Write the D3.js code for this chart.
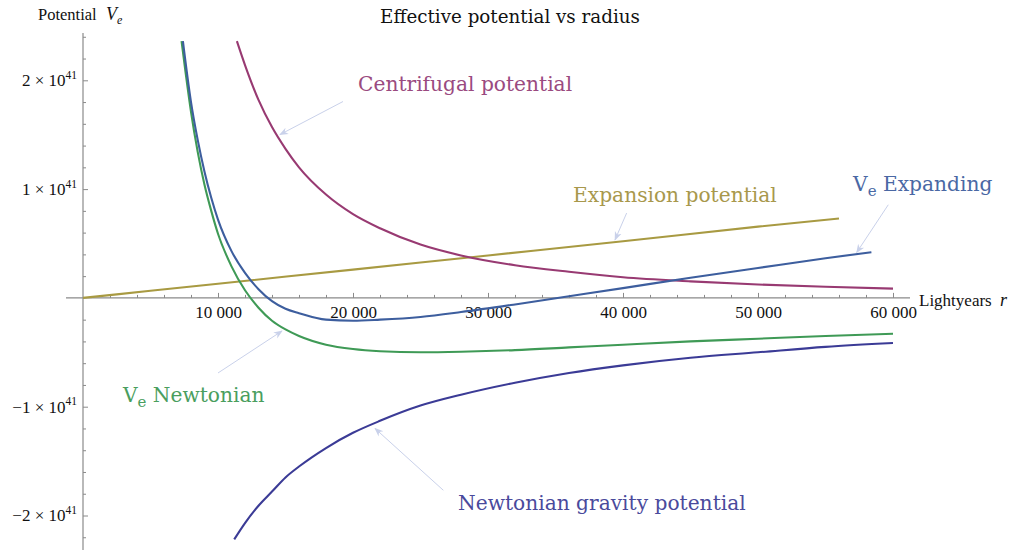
<!DOCTYPE html>
<html>
<head>
<meta charset="utf-8">
<script src="https://cdn.jsdelivr.net/npm/d3@7"></script>
<style>
  body { margin: 0; background: #fff; }
  svg { display: block; }
  text { font-family: "Liberation Serif", serif; }
  .lbl { font-family: "DejaVu Serif", serif; }
</style>
</head>
<body>
<svg width="1010" height="550"></svg>
<script>
// radius r in lightyears, potential V in units of 1e41

var centrifugalR = [11400, 12000, 13000, 14000, 15000, 16000, 18000, 20000, 22000, 25000, 28000, 32000, 36000, 40000, 45000, 50000, 55000, 60000];
var centrifugalV = [2.36, 2.14, 1.82, 1.57, 1.37, 1.20, 0.95, 0.77, 0.64, 0.49, 0.39, 0.30, 0.24, 0.19, 0.152, 0.123, 0.102, 0.085];

var gravityR = [11200, 12000, 13000, 14000, 15000, 16000, 18000, 20000, 22000, 25000, 28000, 32000, 36000, 40000, 45000, 50000, 55000, 60000];
var gravityV = [-2.22, -2.07, -1.91, -1.78, -1.65, -1.55, -1.38, -1.24, -1.13, -0.99, -0.89, -0.78, -0.69, -0.62, -0.55, -0.50, -0.45, -0.415];

var expansionR = [0, 5000, 10000, 20000, 30000, 40000, 50000, 56000];
var expansionV = [0, 0.065, 0.13, 0.26, 0.39, 0.52, 0.655, 0.73];

var newtonianR = [7300, 7600, 8000, 8500, 9000, 9500, 10000, 11000, 12000, 13000, 14000, 15000, 16000, 18000, 20000, 22000, 25000, 28000, 32000, 36000, 40000, 45000, 50000, 55000, 60000];
var newtonianV = [2.36, 2.07, 1.71, 1.34, 1.04, 0.80, 0.59, 0.29, 0.07, -0.09, -0.21, -0.29, -0.35, -0.43, -0.47, -0.49, -0.50, -0.495, -0.48, -0.455, -0.43, -0.40, -0.375, -0.35, -0.33];

var expandingR = [7400, 8000, 8500, 9000, 9500, 10000, 11000, 12000, 13000, 14000, 15000, 16000, 18000, 20000, 22000, 25000, 28000, 32000, 36000, 40000, 45000, 50000, 55000, 58400];
var expandingV = [2.36, 1.80, 1.45, 1.16, 0.92, 0.72, 0.43, 0.23, 0.08, -0.03, -0.10, -0.14, -0.20, -0.21, -0.20, -0.175, -0.13, -0.06, 0.015, 0.09, 0.185, 0.275, 0.365, 0.42];

var xTicks = [10000, 20000, 30000, 40000, 50000, 60000];
var yTicks = [-2, -1, 1, 2];
var yTickLabels = ["\u22122", "\u22121", "1", "2"];

var svg = d3.select("svg");

var x = d3.scaleLinear().domain([0, 60000]).range([83, 893]);
var y = d3.scaleLinear().domain([-2, 2]).range([515.5, 80.3]);
var x0 = x(0), y0 = y(0);

var axisColor = "#8a8a8a";

// axis lines
svg.append("line")
  .attr("x1", 66).attr("x2", 910)
  .attr("y1", y0).attr("y2", y0)
  .attr("stroke", axisColor).attr("stroke-width", 1.2);
svg.append("line")
  .attr("x1", x0).attr("x2", x0)
  .attr("y1", 33).attr("y2", 550)
  .attr("stroke", axisColor).attr("stroke-width", 1.2);

// x ticks
var minorX = d3.range(1, 31).map(i => i * 2000).filter(d => d % 10000 != 0);
svg.append("g")
  .attr("transform", `translate(0,${y0})`)
  .call(d3.axisBottom(x).tickValues(minorX).tickSizeInner(-3).tickSizeOuter(0).tickFormat(""))
  .call(g => g.select(".domain").remove());

var gx = svg.append("g")
  .attr("transform", `translate(0,${y0})`)
  .call(d3.axisBottom(x).tickValues(xTicks).tickSizeInner(-5).tickSizeOuter(0).tickPadding(8)
    .tickFormat(d => d3.format(",")(d).replace(",", "\u2005")))
  .call(g => g.select(".domain").remove());
gx.selectAll("text").attr("font-size", 17).attr("fill", "#111")
  .style("font-family", '"Liberation Serif", serif');

// y ticks
var minorY = d3.range(-11, 13).map(i => i / 5).filter(d => Math.abs(d - Math.round(d)) > 1e-9);
svg.append("g")
  .attr("transform", `translate(${x0},0)`)
  .call(d3.axisLeft(y).tickValues(minorY).tickSizeInner(-3).tickSizeOuter(0).tickFormat(""))
  .call(g => g.select(".domain").remove());

var gy = svg.append("g")
  .attr("transform", `translate(${x0},0)`)
  .call(d3.axisLeft(y).tickValues(yTicks).tickSizeInner(-5).tickSizeOuter(0).tickPadding(6).tickFormat(""))
  .call(g => g.select(".domain").remove());

svg.selectAll(".tick line").attr("stroke", axisColor);

gy.selectAll(".tick").each(function(d, i) {
  var t = d3.select(this).select("text")
    .attr("font-size", 17).attr("fill", "#111").attr("dy", "0.32em")
    .style("font-family", '"Liberation Serif", serif');
  t.append("tspan").text(yTickLabels[i] + " \u00d7 10");
  t.append("tspan").attr("font-size", 11.5).attr("dy", "-0.65em").text("41");
});

// axis labels
var ylab = svg.append("text").attr("x", 38).attr("y", 19.5).attr("font-size", 16.5).attr("fill", "#111");
ylab.append("tspan").text("Potential");
ylab.append("tspan").attr("x", 106).attr("font-style", "italic").attr("font-size", 18).text("V");
ylab.append("tspan").attr("font-style", "italic").attr("font-size", 12).attr("dy", 4).text("e");

var xlab = svg.append("text").attr("x", 919).attr("y", 306).attr("font-size", 17).attr("fill", "#111");
xlab.append("tspan").text("Lightyears");
xlab.append("tspan").attr("x", 1000).attr("font-style", "italic").attr("font-size", 18).text("r");

// title
svg.append("text")
  .attr("class", "lbl")
  .attr("x", 510).attr("y", 23)
  .attr("text-anchor", "middle")
  .attr("font-size", 18.3)
  .attr("fill", "#111")
  .text("Effective potential vs radius");

// curves
var line = d3.line()
  .x(d => x(d[0]))
  .y(d => y(d[1]))
  .curve(d3.curveMonotoneX);

var series = [
  { r: expansionR,   v: expansionV,   color: "#a89a42" },
  { r: centrifugalR, v: centrifugalV, color: "#983a72" },
  { r: gravityR,     v: gravityV,     color: "#3b3b96" },
  { r: newtonianR,   v: newtonianV,   color: "#3f9a56" },
  { r: expandingR,   v: expandingV,   color: "#3d5e9e" }
];

svg.selectAll("path.curve")
  .data(series)
  .enter()
  .append("path")
  .attr("class", "curve")
  .attr("fill", "none")
  .attr("stroke", d => d.color)
  .attr("stroke-width", 2.1)
  .attr("stroke-linejoin", "round")
  .attr("d", d => line(d.r.map((r, i) => [r, d.v[i]])));

// callout arrows
var arrowColor = "#c9d1ea";
svg.append("defs").append("marker")
  .attr("id", "head")
  .attr("viewBox", "0 0 10 10")
  .attr("refX", 9).attr("refY", 5)
  .attr("markerWidth", 9).attr("markerHeight", 9)
  .attr("markerUnits", "userSpaceOnUse")
  .attr("orient", "auto")
  .append("path")
  .attr("d", "M0,1 L10,5 L0,9 L3,5 Z")
  .attr("fill", arrowColor);

var arrows = [
  [[19260, 1.805], [14590, 1.501]],
  [[40270, 0.780], [39410, 0.534]],
  [[59650, 0.856], [57310, 0.417]],
  [[10000, -0.69], [14740, -0.304]],
  [[26690, -1.768], [21630, -1.20]]
];

svg.selectAll("line.arrow")
  .data(arrows)
  .enter()
  .append("line")
  .attr("class", "arrow")
  .attr("x1", d => x(d[0][0])).attr("y1", d => y(d[0][1]))
  .attr("x2", d => x(d[1][0])).attr("y2", d => y(d[1][1]))
  .attr("stroke", arrowColor)
  .attr("stroke-width", 1)
  .attr("marker-end", "url(#head)");

// curve labels
var labels = [
  { r: 20370, v: 1.90,   text: "Centrifugal potential",       color: "#9a4a80" },
  { r: 36300, v: 0.878,  text: "Expansion potential",         color: "#a8984c" },
  { r: 57040, v: 0.979,  text: "V", sub: "e", rest: " Expanding", color: "#4a68a4" },
  { r: 2960,  v: -0.955, text: "V", sub: "e", rest: " Newtonian", color: "#4a9e5e" },
  { r: 27780, v: -1.952, text: "Newtonian gravity potential", color: "#4a4a9c" }
];

labels.forEach(function(l) {
  var t = svg.append("text")
    .attr("class", "lbl")
    .attr("x", x(l.r)).attr("y", y(l.v))
    .attr("font-size", 20.2)
    .attr("fill", l.color)
    .text(l.text);
  if (l.sub) {
    t.append("tspan").attr("font-size", 15).attr("dy", 5).text(l.sub);
    t.append("tspan").attr("dy", -5).text(l.rest);
  }
});
</script>
</body>
</html>
